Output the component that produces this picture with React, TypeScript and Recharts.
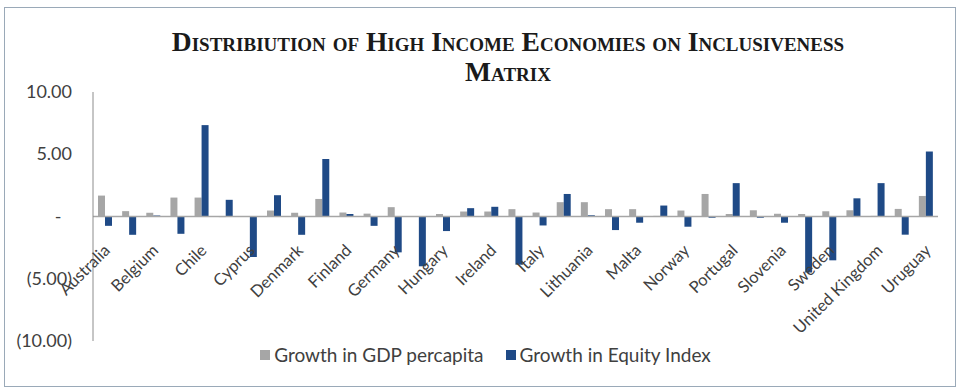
import { BarChart, Bar, XAxis, YAxis, ReferenceLine } from "recharts";

const COUNTRIES = [
  "Australia", "Austria", "Belgium", "Canada", "Chile", "Croatia", "Cyprus", "Czech Republic",
  "Denmark", "Estonia", "Finland", "France", "Germany", "Greece", "Hungary", "Iceland",
  "Ireland", "Israel", "Italy", "Latvia", "Lithuania", "Luxembourg", "Malta", "Netherlands",
  "Norway", "Poland", "Portugal", "Slovak Republic", "Slovenia", "Spain", "Sweden", "Switzerland",
  "United Kingdom", "United States", "Uruguay",
];

const GDP_GROWTH = [
  1.68, 0.43, 0.3, 1.52, 1.52, -0.05, 0.0, 0.48,
  0.3, 1.41, 0.32, 0.23, 0.75, 0.02, 0.2, 0.4,
  0.4, 0.59, 0.32, 1.15, 1.15, 0.59, 0.59, 0.05,
  0.48, 1.81, 0.2, 0.5, 0.22, 0.2, 0.42, 0.5,
  0.05, 0.61, 1.65,
];

const EQUITY_GROWTH = [
  -0.75, -1.47, 0.08, -1.39, 7.34, 1.34, -3.25, 1.71,
  -1.47, 4.62, 0.2, -0.75, -2.88, -4.0, -1.17, 0.67,
  0.78, -3.87, -0.72, 1.81, 0.1, -1.09, -0.5, 0.88,
  -0.82, -0.1, 2.68, -0.1, -0.5, -4.5, -3.52, 1.46,
  2.68, -1.46, 5.22,
];

const Y_TICKS = [-10, -5, 0, 5, 10];

const SERIES = [
  { key: "gdp", name: "Growth in GDP percapita", color: "#A6A6A6" },
  { key: "equity", name: "Growth in Equity Index", color: "#1F4A86" },
];

const FONT = "Lato, 'Open Sans', sans-serif";
const W = 963;
const H = 388;
const X_AXIS_H = 30;
const M = { top: 92, right: 25, bottom: 47 - X_AXIS_H, left: 0 };
const PLOT_H = H - 92 - 47;

const data = COUNTRIES.map((name, i) => ({ name, gdp: GDP_GROWTH[i], equity: EQUITY_GROWTH[i] }));

const fmt = (v: number) => {
  if (v === 0) return "-";
  const s = Math.abs(v).toFixed(2);
  return v < 0 ? `(${s})` : s;
};

function YTick({ x, y, payload }: any) {
  const v = payload.value;
  return (
    <text
      x={v === 0 ? x - 15 : x - 1}
      y={y}
      dy={6}
      textAnchor={v === 0 ? "middle" : "end"}
      fontSize={18}
      fontFamily={FONT}
      fill="#404040"
    >
      {fmt(v)}
    </text>
  );
}

// labels sit under the zero line, not at the bottom of the plot
function XTick({ x, y, payload }: any) {
  const zy = y - PLOT_H / 2;
  const ax = x + 6;
  const ay = zy + 35;
  return (
    <text
      x={ax}
      y={ay}
      textAnchor="end"
      fontSize={16.5}
      fontFamily={FONT}
      fill="#404040"
      transform={`rotate(-45 ${ax} ${ay})`}
    >
      {payload.value}
    </text>
  );
}

export default function App() {
  return (
    <div style={{ position: "absolute", left: 0, top: 0, width: W, height: H, background: "#fff", overflow: "hidden" }}>
      <div
        style={{
          position: "absolute",
          left: 4,
          top: 7,
          width: 950,
          height: 378,
          border: "1.5px solid #9AA9B8",
        }}
      />
      <div
        style={{
          position: "absolute",
          left: 0,
          width: W,
          top: 27,
          textAlign: "center",
          fontFamily: "'Liberation Serif', 'Times New Roman', serif",
          fontWeight: "bold",
          fontVariant: "small-caps",
          fontSize: 27.5,
          lineHeight: "30px",
          color: "#1a1a1a",
          paddingLeft: 53,
          boxSizing: "border-box",
        }}
      >
        Distribiution of High Income Economies on Inclusiveness
        <br />
        Matrix
      </div>
      <div style={{ position: "absolute", left: 0, top: 0 }}>
        <BarChart width={W} height={H} data={data} margin={M} barSize={7} barGap={0}>
          <XAxis
            dataKey="name"
            interval={1}
            axisLine={false}
            tickLine={false}
            height={X_AXIS_H}
            tickSize={0}
            tickMargin={0}
            tick={<XTick />}
          />
          <YAxis
            domain={[-10, 10]}
            ticks={Y_TICKS}
            width={93}
            tickSize={0}
            tickMargin={20}
            axisLine={{ stroke: "#8C8C8C", strokeWidth: 1 }}
            tickLine={false}
            tick={<YTick />}
          />
          <ReferenceLine y={0} stroke="#A6A6A6" strokeWidth={1.5} />
          {SERIES.map((s) => (
            <Bar key={s.key} dataKey={s.key} name={s.name} fill={s.color} isAnimationActive={false} />
          ))}
        </BarChart>
      </div>
      <div
        style={{
          position: "absolute",
          left: 0,
          width: W,
          top: 343,
          display: "flex",
          justifyContent: "center",
          gap: 22,
          paddingLeft: 8,
          boxSizing: "border-box",
          fontFamily: FONT,
          fontSize: 19,
          color: "#404040",
        }}
      >
        {SERIES.map((s) => (
          <span key={s.key} style={{ display: "flex", alignItems: "center", gap: 4 }}>
            <span style={{ width: 10, height: 10, background: s.color, display: "inline-block" }} />
            {s.name}
          </span>
        ))}
      </div>
    </div>
  );
}
